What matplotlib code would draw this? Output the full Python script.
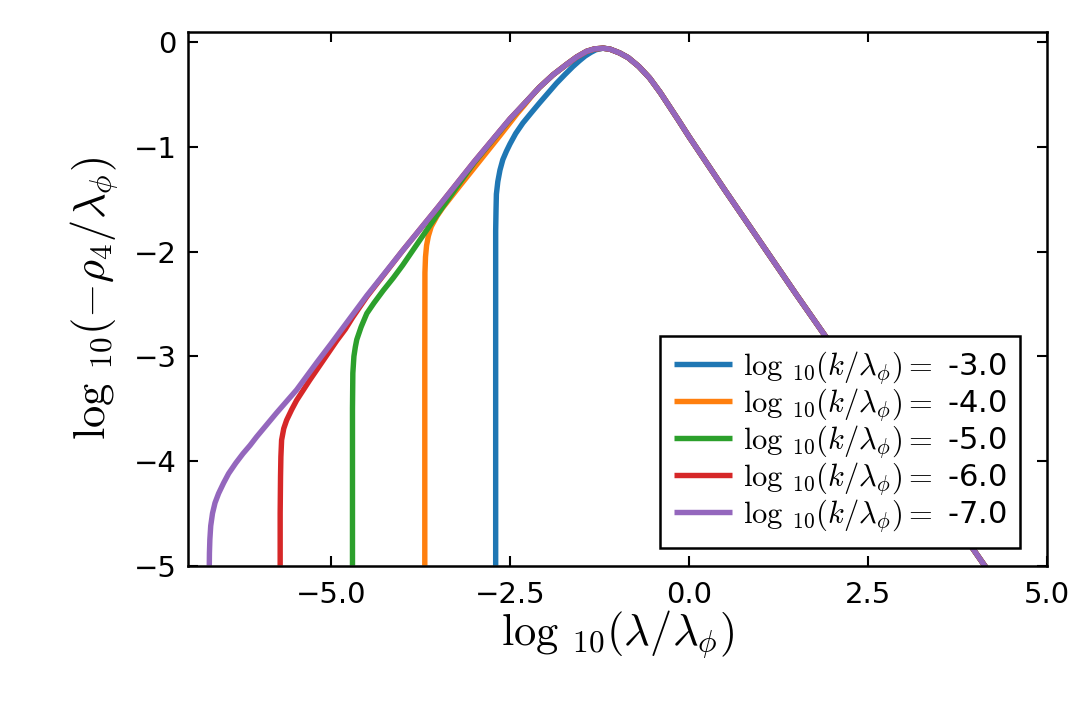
import matplotlib
matplotlib.use("Agg")
import matplotlib.pyplot as plt

plt.rcParams['mathtext.fontset'] = 'cm'
plt.rcParams['font.family'] = ['DejaVu Sans']

# ---- data ----
k_labels = ["-3.0", "-4.0", "-5.0", "-6.0", "-7.0"]
colors = ["#1f77b4", "#ff7f0e", "#2ca02c", "#d62728", "#9467bd"]

# shared top / decaying branch (near and right of the peak)
right_x = [-1.20, -1.10, -0.97, -0.85, -0.70, -0.55, -0.40, -0.15, 0.0, 0.5, 1.0, 1.5,
           2.0, 2.5, 3.0, 3.5, 4.15]
right_y = [-0.055, -0.065, -0.10, -0.145, -0.23, -0.34, -0.48, -0.74, -0.90, -1.41, -1.91,
           -2.41, -2.90, -3.39, -3.88, -4.38, -5.02]

# shared approach to the peak
top_x = [-2.09, -1.90, -1.71, -1.57, -1.43, -1.32]
top_y = [-0.43, -0.31, -0.21, -0.14, -0.085, -0.062]

# log10(k/lambda_phi) = -7 (purple), rising branch
purple_x = [-6.70, -6.698, -6.692, -6.68, -6.655, -6.62, -6.57, -6.50, -6.43, -6.33,
            -6.23, -6.13, -6.04, -5.90, -5.76, -5.62, -5.48, -5.34, -5.20, -5.0,
            -4.75, -4.5, -4.25, -4.0, -3.75, -3.5, -3.25, -3.0, -2.75, -2.5, -2.3]
purple_y = [-5.00, -4.88, -4.75, -4.62, -4.50, -4.40, -4.31, -4.21, -4.12, -4.02,
            -3.93, -3.85, -3.77, -3.655, -3.54, -3.43, -3.32, -3.19, -3.06, -2.88,
            -2.65, -2.42, -2.205, -1.99, -1.78, -1.57, -1.355, -1.14, -0.935, -0.73, -0.585]

# log10(k/lambda_phi) = -6 (red)
red_x = [-5.71, -5.71, -5.705, -5.70, -5.69, -5.66, -5.62, -5.55, -5.48, -5.39, -5.30,
         -5.20, -5.11, -5.01, -4.92, -4.80, -4.70, -4.5, -4.25, -4.0, -3.75, -3.5,
         -3.25, -3.0, -2.75, -2.5, -2.3]
red_y = [-5.00, -4.50, -4.15, -3.96, -3.80, -3.69, -3.61, -3.51, -3.42, -3.325, -3.23,
         -3.13, -3.04, -2.94, -2.85, -2.74, -2.63, -2.43, -2.21, -1.99, -1.78, -1.57,
         -1.355, -1.14, -0.935, -0.73, -0.585]

# log10(k/lambda_phi) = -5 (green)
green_x = [-4.70, -4.70, -4.70, -4.695, -4.68, -4.66, -4.64, -4.58, -4.50, -4.40, -4.27,
           -4.13, -4.0, -3.88, -3.76, -3.63, -3.5, -3.35, -3.2, -3.0, -2.75, -2.5, -2.3]
green_y = [-5.00, -4.00, -3.50, -3.16, -3.00, -2.91, -2.84, -2.72, -2.59, -2.49, -2.37,
           -2.25, -2.13, -2.01, -1.89, -1.76, -1.63, -1.485, -1.34, -1.15, -0.94, -0.735, -0.585]

# log10(k/lambda_phi) = -4 (orange)
orange_x = [-3.69, -3.69, -3.69, -3.688, -3.68, -3.665, -3.64, -3.60, -3.52, -3.44, -3.32,
            -3.20, -3.06, -2.92, -2.78, -2.64, -2.52, -2.40, -2.30, -2.20]
orange_y = [-5.00, -4.00, -3.00, -2.20, -2.05, -1.94, -1.85, -1.76, -1.66, -1.58, -1.475,
            -1.37, -1.25, -1.13, -1.01, -0.89, -0.785, -0.68, -0.60, -0.515]

# log10(k/lambda_phi) = -3 (blue)
blue_x = [-2.70, -2.70, -2.70, -2.695, -2.69, -2.67, -2.64, -2.60, -2.55, -2.50, -2.42,
          -2.32, -2.20, -2.09, -1.97, -1.85, -1.73, -1.62, -1.53, -1.45, -1.37, -1.30]
blue_y = [-5.00, -3.00, -1.80, -1.60, -1.45, -1.33, -1.22, -1.12, -1.04, -0.97, -0.87,
          -0.77, -0.67, -0.58, -0.485, -0.39, -0.305, -0.23, -0.175, -0.13, -0.095, -0.07]

x_ticks = [-5.0, -2.5, 0.0, 2.5, 5.0]
y_ticks = [-5, -4, -3, -2, -1, 0]

# ---- assemble the five curves ----
curves = [
    (blue_x + right_x, blue_y + right_y),
    (orange_x + top_x + right_x, orange_y + top_y + right_y),
    (green_x + top_x + right_x, green_y + top_y + right_y),
    (red_x + top_x + right_x, red_y + top_y + right_y),
    (purple_x + top_x + right_x, purple_y + top_y + right_y),
]

# ---- figure ----
fig = plt.figure(figsize=(10.8, 7.2), dpi=100)
ax = fig.add_axes([0.1739, 0.2144, 0.9694 - 0.1739, 0.9556 - 0.2144])

for (xs, ys), lab, col in zip(curves, k_labels, colors):
    ax.plot(xs, ys, color=col, lw=3.9, solid_capstyle='butt', solid_joinstyle='round',
            label=r'$\log\,{}_{10}(k/\lambda_\phi) =$ ' + lab)

ax.set_xlim(-7.0, 5.0)
ax.set_ylim(-5.0, 0.1)
ax.set_xticks(x_ticks)
ax.set_xticklabels([f"{v:.1f}".replace("-", "\u2212") for v in x_ticks])
ax.set_yticks(y_ticks)
ax.set_yticklabels([f"{v:d}".replace("-", "\u2212") for v in y_ticks])

ax.tick_params(axis='both', which='major', direction='in', length=7, width=1.5,
               top=True, right=True, labelsize=21, colors='black')
ax.tick_params(axis='x', pad=11)
ax.tick_params(axis='y', pad=8)
for sp in ax.spines.values():
    sp.set_linewidth(1.8)
    sp.set_color('black')

ax.set_xlabel(r'$\log\,{}_{10}(\lambda/\lambda_\phi)$', fontsize=32, labelpad=0)
ax.set_ylabel(r'$\log\,{}_{10}(-\rho_4/\lambda_\phi)$', fontsize=32, labelpad=10)

leg = ax.legend(loc='lower right', bbox_to_anchor=(1020 / 1080, 1 - 548 / 720),
                bbox_transform=fig.transFigure, borderaxespad=0, fontsize=22,
                frameon=True, fancybox=False, edgecolor='black', framealpha=1,
                handlelength=1.9, handletextpad=0.35, labelspacing=0.0,
                borderpad=0.45)
leg.get_frame().set_linewidth(1.8)

fig.savefig("out.png", dpi=100)
